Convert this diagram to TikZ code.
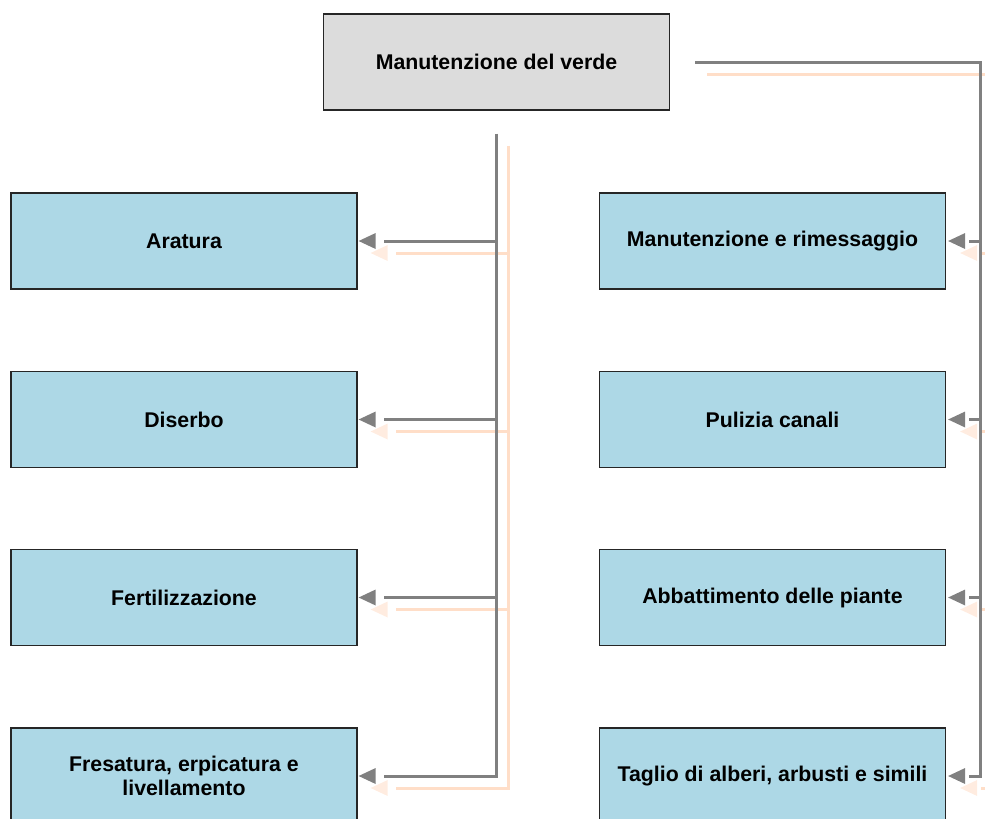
\documentclass[tikz,border=0pt]{standalone}
\usepackage{fontspec}
\setmainfont{Liberation Sans}
\begin{document}
\begin{tikzpicture}[x=1pt,y=-1pt,
  box/.style={draw=black!85,line width=1.3pt,minimum width=346pt,minimum height=96pt,inner sep=0pt,align=center,
    font=\fontsize{21.3}{24}\selectfont\bfseries},
  child/.style={box,fill={rgb,255:red,173;green,216;blue,230}},
  conn/.style={draw={rgb,255:red,128;green,128;blue,128},line width=3pt},
  sconn/.style={draw={rgb,255:red,255;green,222;blue,200},line width=3pt},
  tip/.style={fill={rgb,255:red,128;green,128;blue,128}},
  stip/.style={fill={rgb,255:red,255;green,236;blue,224}}]
\useasboundingbox (0,0) rectangle (985,819);
\node[box,fill={rgb,255:red,220;green,220;blue,220}] (top) at (496.5,62) {Manutenzione del verde};
\node[child] (a1) at (184,241) {Aratura};
\node[child] (a2) at (184,419.5) {Diserbo};
\node[child] (a3) at (184,597.5) {Fertilizzazione};
\node[child] (a4) at (184,776) {Fresatura, erpicatura e\\livellamento};
\node[child] (b1) at (772.5,241) {Manutenzione e rimessaggio};
\node[child] (b2) at (772.5,419.5) {Pulizia canali};
\node[child] (b3) at (772.5,597.5) {Abbattimento delle piante};
\node[child] (b4) at (772.5,776) {Taglio di alberi, arbusti e simili};
\coordinate (R) at (980,62);
% shadows
\begin{scope}[transform canvas={xshift=12pt,yshift=-12pt}]
\draw[sconn,shorten <=23pt] (top.south) -- (top.south |- a4.east) -- ([xshift=26pt]a4.east);
\foreach \n in {a1,a2,a3}{\draw[sconn] (top.south |- \n.east) -- ([xshift=26pt]\n.east);}
\draw[sconn,shorten <=25pt] (top.east) -- (R) -- (R |- b4.east) -- ([xshift=23pt]b4.east);
\foreach \n in {b1,b2,b3}{\draw[sconn] (R |- \n.east) -- ([xshift=23pt]\n.east);}
\foreach \n in {a1,a2,a3,a4}{\path[stip] ([xshift=1pt]\n.east) -- ++(17,-8) -- ++(0,16) -- cycle;}
\foreach \n in {b1,b2,b3,b4}{\path[stip] ([xshift=2pt]\n.east) -- ++(17,-8) -- ++(0,16) -- cycle;}
\end{scope}
% connectors
\draw[conn,shorten <=23pt] (top.south) -- (top.south |- a4.east) -- ([xshift=26pt]a4.east);
\foreach \n in {a1,a2,a3}{\draw[conn] (top.south |- \n.east) -- ([xshift=26pt]\n.east);}
\draw[conn,shorten <=25pt] (top.east) -- (R) -- (R |- b4.east) -- ([xshift=23pt]b4.east);
\foreach \n in {b1,b2,b3}{\draw[conn] (R |- \n.east) -- ([xshift=23pt]\n.east);}
\foreach \n in {a1,a2,a3,a4}{\path[tip] ([xshift=1pt]\n.east) -- ++(17,-8) -- ++(0,16) -- cycle;}
\foreach \n in {b1,b2,b3,b4}{\path[tip] ([xshift=2pt]\n.east) -- ++(17,-8) -- ++(0,16) -- cycle;}
\end{tikzpicture}
\end{document}
